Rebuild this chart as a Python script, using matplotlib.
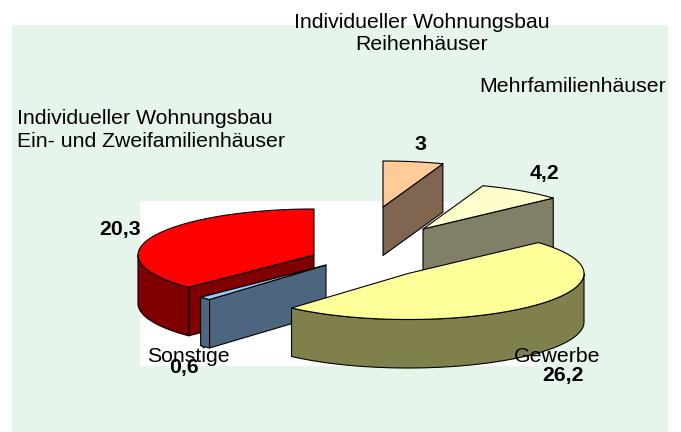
import numpy as np
import matplotlib
matplotlib.use("Agg")
import matplotlib.pyplot as plt
from matplotlib.patches import Polygon, Rectangle

plt.rcParams['font.family'] = ['Liberation Sans', 'DejaVu Sans']

# data (clockwise from 12 o'clock)
categories = ["Individueller Wohnungsbau\nReihenhäuser", "Mehrfamilienhäuser", "Gewerbe",
              "Sonstige", "Individueller Wohnungsbau\nEin- und Zweifamilienhäuser"]
values = [3, 4.2, 26.2, 0.6, 20.3]
value_labels = ["3", "4,2", "26,2", "0,6", "20,3"]

# style / layout (pixel space of the 681x432 figure)
top_colors = ["#FFCC99", "#FFFFCC", "#FFFF99", "#99CCFF", "#FF0000"]
side_colors = ["#806650", "#808066", "#80804D", "#4D6680", "#800000"]
apexes = [(383, 207), (423, 229), (408, 273.5), (326, 265), (314, 255)]
draw_order = [0, 1, 4, 3, 2]
RX, RY, DEPTH = 176, 46, 48.5

fig = plt.figure(figsize=(6.81, 4.32), dpi=100, facecolor="white")
ax = fig.add_axes([0, 0, 1, 1])
ax.set_xlim(0, 681)
ax.set_ylim(432, 0)
ax.axis("off")

ax.add_patch(Rectangle((12, 25), 656, 407, fc="#E6F5E9", ec="none", zorder=0))
ax.add_patch(Rectangle((140, 201), 400, 165, fc="white", ec="none", zorder=1))

total = sum(values)
edges = np.concatenate([[0], np.cumsum(values)]) / total * 2 * np.pi


def rim(apex, t):
    t = np.asarray(t, dtype=float)
    return np.column_stack([apex[0] + RX * np.sin(t), apex[1] - RY * np.cos(t)])


def poly(pts, color, z):
    ax.add_patch(Polygon(pts, closed=True, fc=color, ec="black", lw=0.8,
                         joinstyle="round", zorder=z))


for n, i in enumerate(draw_order):
    a, b = edges[i], edges[i + 1]
    apex = apexes[i]
    z = 2 + n
    down = np.array([0, DEPTH])
    # radial cut faces facing the viewer
    if np.sin(a) < -1e-9:
        r = rim(apex, [a])[0]
        poly([apex, r, r + down, np.array(apex) + down], side_colors[i], z)
    if np.sin(b) > 1e-9:
        r = rim(apex, [b])[0]
        poly([apex, r, r + down, np.array(apex) + down], side_colors[i], z)
    # outer wall (front half of the ellipse)
    lo, hi = max(a, np.pi / 2), min(b, 3 * np.pi / 2)
    if hi > lo:
        arc = rim(apex, np.linspace(lo, hi, 80))
        poly(np.vstack([arc, arc[::-1] + down]), side_colors[i], z)
    # top face
    arc = rim(apex, np.linspace(a, b, 120))
    poly(np.vstack([[apex], arc]), top_colors[i], z)

FS = 15.3
name_pos = [(422, 33, "center", 1.2), (479, 86, "left", 1.0), (514, 357, "left", 1.0),
            (147, 357, "left", 1.0), (17, 130, "left", 1.3)]
val_pos = [(420, 144), (545, 173), (563, 375), (184, 367), (120, 230)]
for cat, (x, y, ha, ls) in zip(categories, name_pos):
    ax.text(x, y, cat, fontsize=FS, ha=ha, va="center", ma=ha, color="black",
            linespacing=ls, zorder=20)
for lab, (x, y) in zip(value_labels, val_pos):
    ax.text(x, y, lab, fontsize=FS, fontweight="bold", ha="center", va="center",
            color="black", zorder=21)

fig.savefig("out.png", dpi=100)
